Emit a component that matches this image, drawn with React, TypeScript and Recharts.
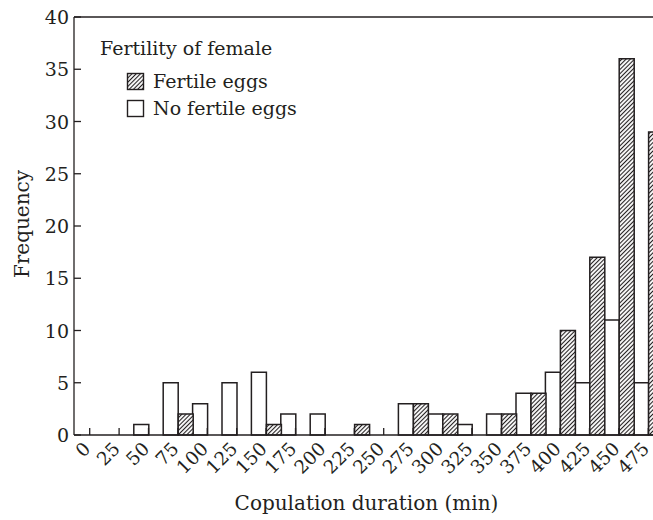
import React from 'react';
import { BarChart, Bar, XAxis, YAxis, ReferenceLine, Legend } from 'recharts';

const bins = ['0', '25', '50', '75', '100', '125', '150', '175', '200', '225', '250', '275', '300', '325', '350', '375', '400', '425', '450', '475'];
const fertileEggs = [0, 0, 0, 2, 0, 0, 1, 0, 0, 1, 0, 3, 2, 0, 2, 4, 10, 17, 36, 29];
const noFertileEggs = [0, 0, 1, 5, 3, 5, 6, 2, 2, 0, 0, 3, 2, 1, 2, 4, 6, 5, 11, 5];
const yTicks = [0, 5, 10, 15, 20, 25, 30, 35, 40];
const legendOrder = ['fertile', 'noFertile'];

const data = bins.map((b, i) => ({ bin: b, noFertile: noFertileEggs[i], fertile: fertileEggs[i] }));

const FONT = '"DejaVu Serif", serif';
const INK = '#231f20';

const XTick = (props: any) => {
  const { x, y, payload } = props;
  const ax = x + 2;
  const ay = y + 15;
  return (
    <g>
      <line x1={x} y1={y} x2={x} y2={y - 7} stroke={INK} strokeWidth={1.3} />
      <text x={ax} y={ay} textAnchor="end" fontFamily={FONT} fontSize={18.5} fill={INK}
        transform={`rotate(-45, ${ax}, ${ay})`}>{payload.value}</text>
    </g>
  );
};

const YTick = (props: any) => {
  const { x, y, payload } = props;
  return (
    <g>
      <line x1={x} y1={y} x2={x + 7} y2={y} stroke={INK} strokeWidth={1.3} />
      <text x={x - 5} y={y} textAnchor="end" dominantBaseline="central" fontFamily={FONT} fontSize={19} fill={INK}>{payload.value}</text>
    </g>
  );
};

const LegendContent = (props: any) => {
  const payload = (props.payload || []).slice().sort(
    (a: any, b: any) => legendOrder.indexOf(a.dataKey) - legendOrder.indexOf(b.dataKey)
  );
  return (
    <svg width={320} height={130} style={{ overflow: 'visible' }}>
      <text x={100} y={55} fontFamily={FONT} fontSize={19} fill={INK}>Fertility of female</text>
      {payload.map((p: any, i: number) => (
        <g key={p.value}>
          <rect x={127.5} y={73.5 + i * 27} width={16} height={16}
            fill={p.dataKey === 'fertile' ? 'url(#hatch)' : '#fff'} stroke={INK} strokeWidth={1.4} />
          <text x={153} y={88 + i * 27} fontFamily={FONT} fontSize={19} fill={INK}>{p.value}</text>
        </g>
      ))}
    </svg>
  );
};

export default function App() {
  return (
    <div style={{ position: 'fixed', left: 0, top: 0, width: 653, height: 520, overflow: 'hidden', background: '#fff' }}>
      <svg width={0} height={0} style={{ position: 'absolute' }}>
        <defs>
          <pattern id="hatch" patternUnits="userSpaceOnUse" width={3} height={3} patternTransform="rotate(45)">
            <rect width={3} height={3} fill="#fff" />
            <line x1={1.5} y1={0} x2={1.5} y2={3} stroke={INK} strokeWidth={1.1} />
          </pattern>
        </defs>
      </svg>
      <BarChart width={668} height={520} data={data}
        margin={{ top: 17, right: 5, left: 0, bottom: 0 }}
        barCategoryGap={0} barGap={0}>
        <XAxis dataKey="bin" height={85} padding={{ left: 1, right: 0 }} interval={0}
          tickSize={0} tickMargin={0} tickLine={false} tick={<XTick />}
          axisLine={{ stroke: INK, strokeWidth: 1.3 }}
          label={{
            content: (p: any) => {
              const vb = p.viewBox;
              return (
                <text x={vb.x + vb.width / 2 - 2} y={510} textAnchor="middle" fontFamily={FONT} fontSize={20} fill={INK}>
                  Copulation duration (min)
                </text>
              );
            },
          }} />
        <YAxis width={74} domain={[0, 40]} ticks={yTicks} interval={0}
          tickSize={0} tickMargin={0} tickLine={false} tick={<YTick />}
          axisLine={{ stroke: INK, strokeWidth: 1.3 }}
          label={{
            content: (p: any) => {
              const vb = p.viewBox;
              const cy = vb.y + vb.height / 2 - 2;
              return (
                <text x={29} y={cy} textAnchor="middle" fontFamily={FONT} fontSize={20} fill={INK}
                  transform={`rotate(-90, 29, ${cy})`}>Frequency</text>
              );
            },
          }} />
        <ReferenceLine y={40} stroke={INK} strokeWidth={1.3} ifOverflow="visible" />
        <Legend layout="horizontal" verticalAlign="middle" align="center"
          wrapperStyle={{ position: 'absolute', left: 0, top: 0, width: 320, height: 130 }}
          content={<LegendContent />} />
        <Bar dataKey="noFertile" name="No fertile eggs" fill="#fff" stroke={INK} strokeWidth={1.5} isAnimationActive={false} />
        <Bar dataKey="fertile" name="Fertile eggs" fill="url(#hatch)" stroke={INK} strokeWidth={1.5} isAnimationActive={false} />
      </BarChart>
    </div>
  );
}
